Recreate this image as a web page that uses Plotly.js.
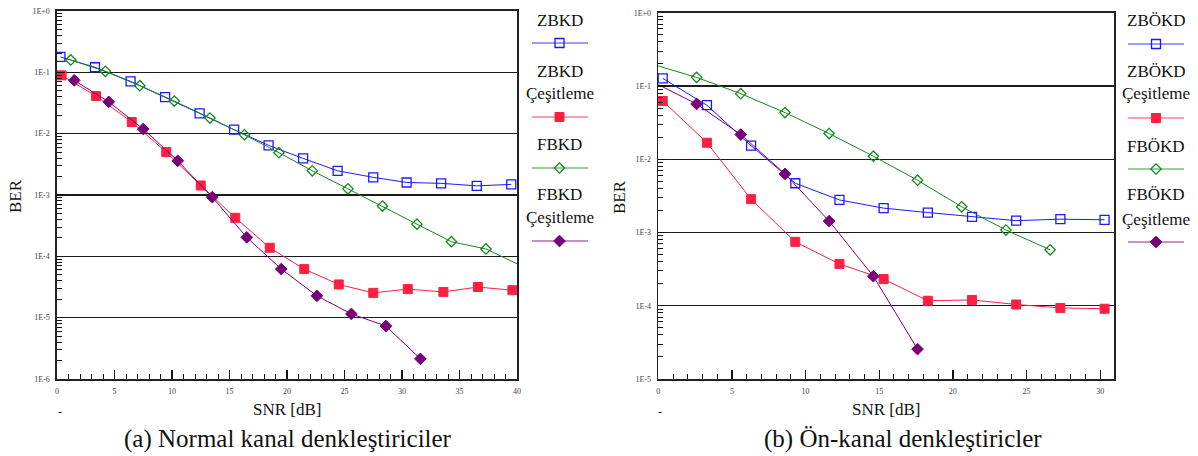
<!DOCTYPE html>
<html>
<head>
<meta charset="utf-8">
<script src="https://cdn.plot.ly/plotly-3.0.1.min.js"></script>
<style>html,body{margin:0;padding:0;background:#fff;}#chart{width:1198px;height:456px;}</style>
</head>
<body>
<div id="chart"></div>
<script>
// ---------- DATA ----------
// (a) Normal kanal denkleştiriciler
const snrZBKD  = [0.3, 3.3, 6.4, 9.4, 12.4, 15.4, 18.4, 21.4, 24.4, 27.5, 30.4, 33.4, 36.5, 39.5];
const berZBKD  = [0.178, 0.121, 0.0713, 0.0395, 0.0214, 0.0116, 0.00645, 0.00395, 0.00248, 0.00194, 0.0016, 0.00155, 0.00141, 0.00149];
const snrZBKDC = [0.4, 3.4, 6.5, 9.5, 12.5, 15.5, 18.5, 21.5, 24.5, 27.5, 30.5, 33.6, 36.6, 39.6];
const berZBKDC = [0.0893, 0.041, 0.0155, 0.005, 0.00143, 0.000425, 0.000138, 0.000062, 0.0000348, 0.0000254, 0.0000292, 0.0000263, 0.0000316, 0.000028];
const snrFBKD  = [1.2, 4.2, 7.2, 10.2, 13.3, 16.3, 19.3, 22.2, 25.3, 28.3, 31.3, 34.3, 37.3, 40.3];
const berFBKD  = [0.159, 0.104, 0.0605, 0.034, 0.018, 0.0096, 0.0049, 0.00248, 0.00126, 0.00066, 0.000335, 0.000173, 0.000132, 0.000071];
const snrFBKDC = [1.5, 4.5, 7.5, 10.5, 13.5, 16.5, 19.5, 22.6, 25.6, 28.6, 31.6];
const berFBKDC = [0.074, 0.033, 0.0119, 0.00361, 0.00092, 0.000204, 0.000062, 0.0000227, 0.0000115, 0.0000073, 0.00000213];

// (b) Ön-kanal denkleştiricler
const snrZBOKD  = [0.3, 3.3, 6.3, 9.3, 12.3, 15.3, 18.3, 21.3, 24.3, 27.3, 30.3];
const berZBOKD  = [0.127, 0.0546, 0.0153, 0.0047, 0.00278, 0.00215, 0.00187, 0.00163, 0.00145, 0.00152, 0.00149];
const snrZBOKDC = [0.3, 3.3, 6.3, 9.3, 12.3, 15.3, 18.3, 21.3, 24.3, 27.3, 30.3];
const berZBOKDC = [0.0624, 0.0168, 0.00285, 0.000745, 0.000373, 0.000231, 0.000117, 0.00012, 0.000104, 0.0000934, 0.000091];
const snrFBOKD  = [-0.4, 2.6, 5.6, 8.6, 11.6, 14.6, 17.6, 20.6, 23.6, 26.6];
const berFBOKD  = [0.198, 0.131, 0.0785, 0.0433, 0.0224, 0.011, 0.00517, 0.00224, 0.00108, 0.00058];
const snrFBOKDC = [-0.4, 2.6, 5.6, 8.6, 11.6, 14.6, 17.6];
const berFBOKDC = [0.1145, 0.0568, 0.0217, 0.0063, 0.00143, 0.000253, 0.0000256];

// names / labels
const namesA = ["ZBKD", "ZBKD<br>Çeşitleme", "FBKD", "FBKD<br>Çeşitleme"];
const namesB = ["ZBÖKD", "ZBÖKD<br>Çeşitleme", "FBÖKD", "FBÖKD<br>Çeşitleme"];
const xTicksA = [0, 5, 10, 15, 20, 25, 30, 35, 40];
const xTicksB = [0, 5, 10, 15, 20, 25, 30];
const yTickValsA = [1e-6, 1e-5, 1e-4, 1e-3, 1e-2, 1e-1, 1];
const yTickTextA = ["1E-6", "1E-5", "1E-4", "1E-3", "1E-2", "1E-1", "1E+0"];
const yTickValsB = [1e-5, 1e-4, 1e-3, 1e-2, 1e-1, 1];
const yTickTextB = ["1E-5", "1E-4", "1E-3", "1E-2", "1E-1", "1E+0"];
const xTitle = "SNR [dB]";
const yTitle = "BER";
const subA = "(a) Normal kanal denkleştiriciler";
const subB = "(b) Ön-kanal denkleştiricler";

// ---------- STYLE ----------
const W = 1198, H = 456;
const px = x => x / W, py = y => 1 - y / H;
const FONT = "Liberation Serif";
const styles = [
  {color: "#1a1aff", symbol: "square-open", size: 9, lw: 1.3},
  {color: "#ff1f43", symbol: "square", size: 9, lw: 1},
  {color: "#14891a", symbol: "diamond-open", size: 8, lw: 1.3},
  {color: "#780078", symbol: "diamond", size: 9, lw: 1}
];

function series(x, y, st, xa, ya) {
  return {x: x, y: y, xaxis: xa, yaxis: ya, type: "scatter", mode: "lines+markers",
    cliponaxis: false, showlegend: false, hoverinfo: "x+y",
    line: {color: st.color, width: 1},
    marker: {symbol: st.symbol, size: st.size, color: st.color, line: {color: st.color, width: st.lw}}};
}

const traces = [
  series(snrZBKD, berZBKD, styles[0], "x", "y"),
  series(snrZBKDC, berZBKDC, styles[1], "x", "y"),
  series(snrFBKD, berFBKD, styles[2], "x", "y"),
  series(snrFBKDC, berFBKDC, styles[3], "x", "y"),
  series(snrZBOKD, berZBOKD, styles[0], "x2", "y2"),
  series(snrZBOKDC, berZBOKDC, styles[1], "x2", "y2"),
  series(snrFBOKD, berFBOKD, styles[2], "x2", "y2"),
  series(snrFBOKDC, berFBOKDC, styles[3], "x2", "y2")
];

// legend layout (pixel positions of legend blocks)
const legends = [
  {names: namesA, cx: 559.5, x0: 532, x1: 588, textY: [[20], [71, 93], [145], [195, 217]], lineY: [43, 117, 168, 241]},
  {names: namesB, cx: 1156, x0: 1128, x1: 1184, textY: [[21], [71, 93], [146], [195, 219]], lineY: [44, 118, 169, 242]}
];
const annotations = [];
const txt = (x, y, t, size, extra) => Object.assign({xref: "paper", yref: "paper", x: px(x), y: py(y), text: t,
  showarrow: false, xanchor: "center", yanchor: "middle", font: {family: FONT, size: size, color: "#111"}}, extra || {});
legends.forEach(lg => {
  lg.names.forEach((nm, i) => {
    nm.split("<br>").forEach((t, j) => annotations.push(txt(lg.cx, lg.textY[i][j], t, 17)));
    traces.push({x: [lg.x0, lg.x1], y: [lg.lineY[i], lg.lineY[i]], xaxis: "x3", yaxis: "y3", mode: "lines",
      line: {color: styles[i].color, width: 1.2}, showlegend: false, hoverinfo: "skip", opacity: 0.85});
    traces.push({x: [lg.cx], y: [lg.lineY[i]], xaxis: "x3", yaxis: "y3", mode: "markers", cliponaxis: false,
      marker: {symbol: styles[i].symbol, size: styles[i].size, color: styles[i].color, line: {color: styles[i].color, width: styles[i].lw}},
      showlegend: false, hoverinfo: "skip"});
  });
});

// titles
annotations.push(txt(15, 196, yTitle, 17, {textangle: -90}));
annotations.push(txt(619, 197, yTitle, 17, {textangle: -90}));
annotations.push(txt(287, 409, xTitle, 17));
annotations.push(txt(886, 409, xTitle, 17));
annotations.push(txt(60, 412, "-", 12));
annotations.push(txt(660, 412, "-", 12));
annotations.push(txt(288, 439, subA, 25));
annotations.push(txt(903, 439, subB, 25));

function minorLog(lo, hi) {
  const v = [];
  for (let e = lo; e < hi; e++) for (let k = 2; k <= 9; k++) v.push(k * Math.pow(10, e));
  return v;
}

function xAxis(domain, range, ticks, anchor) {
  return {domain: domain, range: range, anchor: anchor, tickmode: "array", tickvals: ticks,
    ticks: "inside", ticklen: 9, tickwidth: 1.3, tickcolor: "#111",
    showline: true, linecolor: "#222", linewidth: 1.6, mirror: true, showgrid: false, zeroline: false,
    tickfont: {family: FONT, size: 8, color: "#444"}, ticklabelstandoff: 4,
    minor: {dtick: 1, tick0: 0, ticks: "inside", ticklen: 5, tickwidth: 1, tickcolor: "#111", showgrid: false}};
}
function yAxis(domain, range, vals, text, anchor, lo, hi) {
  return {domain: domain, range: range, type: "log", anchor: anchor, tickmode: "array", tickvals: vals, ticktext: text,
    ticks: "inside", ticklen: 8, tickwidth: 1.2, tickcolor: "#111",
    showline: true, linecolor: "#222", linewidth: 1.6, mirror: true,
    showgrid: true, gridcolor: "#1a1a1a", gridwidth: 1.2, zeroline: false,
    tickfont: {family: FONT, size: 8, color: "#444"}, ticklabelstandoff: 4,
    minor: {tickmode: "array", tickvals: minorLog(lo, hi), ticks: "inside", ticklen: 5, tickwidth: 1, tickcolor: "#111", showgrid: false}};
}

const layout = {
  width: W, height: H, margin: {l: 0, r: 0, t: 0, b: 0},
  paper_bgcolor: "#fff", plot_bgcolor: "rgba(0,0,0,0)",
  font: {family: FONT, color: "#111"},
  showlegend: false,
  xaxis: xAxis([px(57), px(517)], [0, 40], xTicksA, "y"),
  yaxis: yAxis([py(379), py(11)], [-6, 0], yTickValsA, yTickTextA, "x", -6, 0),
  xaxis2: xAxis([px(658.3), px(1114)], [0, 30.94], xTicksB, "y2"),
  yaxis2: yAxis([py(379), py(12.7)], [-5, 0], yTickValsB, yTickTextB, "x2", -5, 0),
  xaxis3: {domain: [0, 1], range: [0, W], anchor: "y3", visible: false, fixedrange: true},
  yaxis3: {domain: [0, 1], range: [H, 0], anchor: "x3", visible: false, fixedrange: true},
  annotations: annotations
};

Plotly.newPlot("chart", traces, layout, {displayModeBar: false, staticPlot: true});
</script>
</body>
</html>
